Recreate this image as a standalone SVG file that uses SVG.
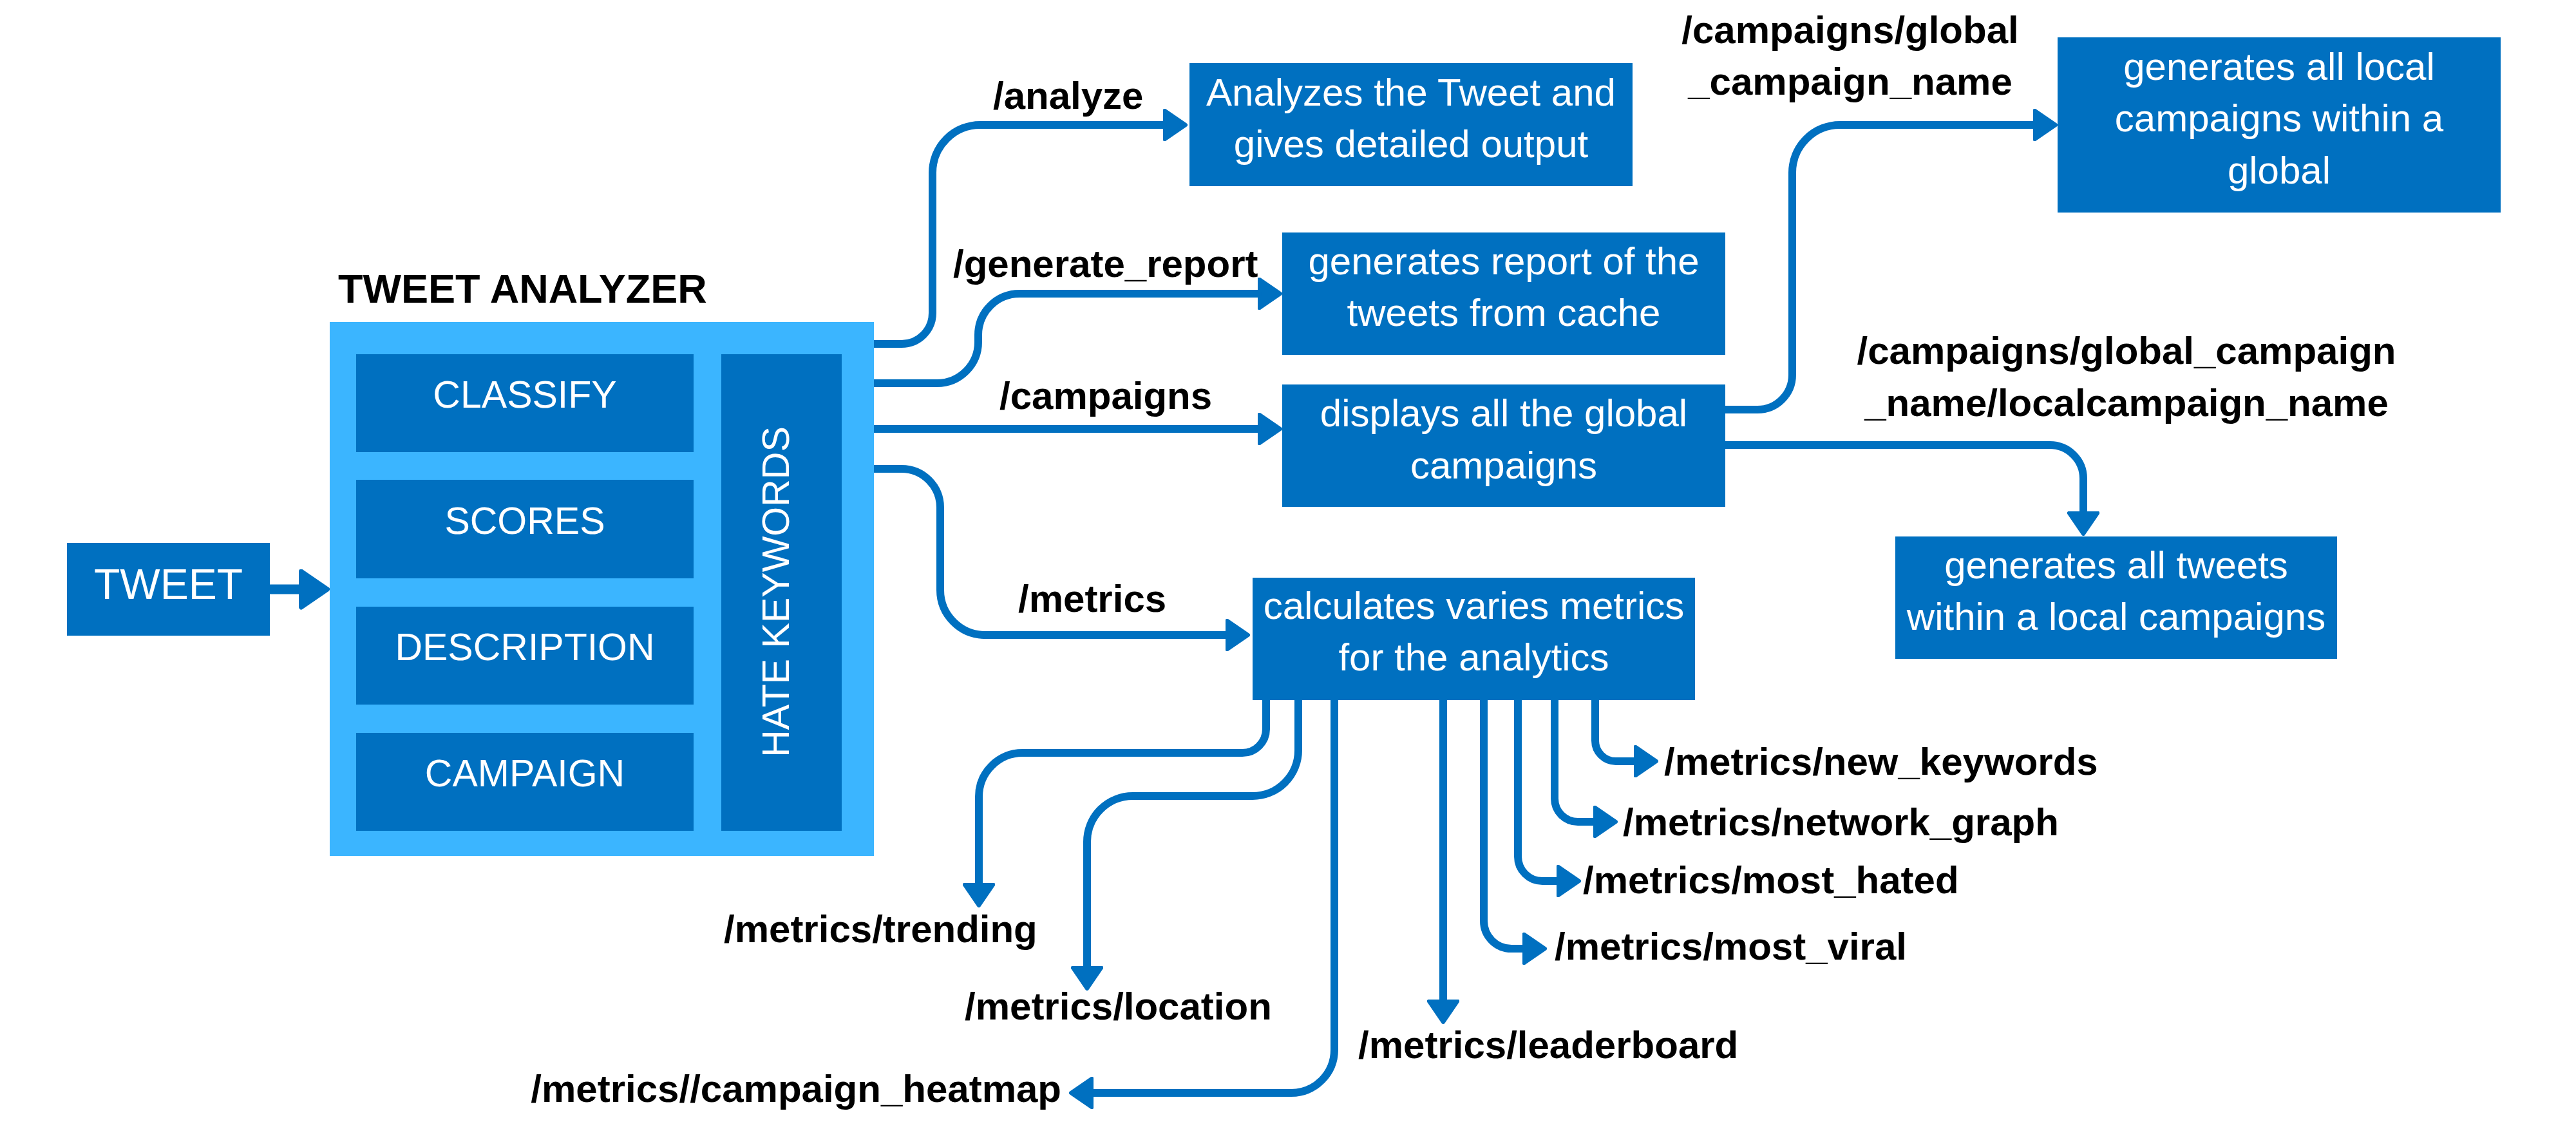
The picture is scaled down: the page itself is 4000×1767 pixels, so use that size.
<svg xmlns="http://www.w3.org/2000/svg" width="4000" height="1767" viewBox="0 0 4000 1767">
<style>
.box{fill:#0070C0}
.outer{fill:#3BB5FF}
.wt{fill:#FFFFFF;font-family:"Liberation Sans",Arial,sans-serif;font-size:60px;text-anchor:middle}
.lb{fill:#000000;font-family:"Liberation Sans",Arial,sans-serif;font-size:60px;font-weight:bold}
.c{fill:none;stroke:#0070C0;stroke-width:12;marker-end:url(#ah)}
</style>
<defs>
<marker id="ah" viewBox="0 0 3.2 4.2" refX="1.2" refY="2.1" markerWidth="3.2" markerHeight="4.2" orient="auto" markerUnits="strokeWidth">
<path d="M0.25,0.25 L2.95,2.1 L0.25,3.95 Z" fill="#0070C0" stroke="#0070C0" stroke-width="0.5" stroke-linejoin="round"/>
</marker>
</defs>
<rect width="4000" height="1767" fill="#FFFFFF"/>

<g id="connectors">
<path class="c" style="stroke-width:15" d="M419,915 H482"/>
<path class="c" d="M1357,534 H1400 A48,48 0 0 0 1448,486 V268 A74,74 0 0 1 1522,194 H1820"/>
<path class="c" d="M1357,595 H1455 A64,64 0 0 0 1519,531 V520 A64,64 0 0 1 1583,456 H1967"/>
<path class="c" d="M1357,666 H1967"/>
<path class="c" d="M1357,728 H1400 A60,60 0 0 1 1460,788 V916 A70,70 0 0 0 1530,986 H1917"/>
<path class="c" d="M2679,636 H2729 A54,54 0 0 0 2783,582 V268 A74,74 0 0 1 2857,194 H3171"/>
<path class="c" d="M2679,691 H3183 A52,52 0 0 1 3235,743 V808"/>
<path class="c" d="M1966,1087 V1132 A37,37 0 0 1 1929,1169 H1588 A68,68 0 0 0 1520,1237 V1385"/>
<path class="c" d="M2016,1087 V1165 A71,71 0 0 1 1945,1236 H1759 A71,71 0 0 0 1688,1307 V1514"/>
<path class="c" d="M2072,1087 V1630 A67,67 0 0 1 2005,1697 H1684"/>
<path class="c" d="M2241,1087 V1566"/>
<path class="c" d="M2304,1087 V1430 A43,43 0 0 0 2347,1473 H2378"/>
<path class="c" d="M2357,1087 V1330 A38,38 0 0 0 2395,1368 H2431"/>
<path class="c" d="M2414,1087 V1240 A36,36 0 0 0 2450,1276 H2488"/>
<path class="c" d="M2477,1087 V1150 A32,32 0 0 0 2509,1182 H2551"/>
</g>

<g id="labels">
<text class="lb" x="1542" y="169">/analyze</text>
<text class="lb" x="1480" y="430">/generate_report</text>
<text class="lb" x="1552" y="635">/campaigns</text>
<text class="lb" x="1581" y="950">/metrics</text>
<text class="lb" x="2873" y="67" text-anchor="middle">/campaigns/global</text>
<text class="lb" x="2873" y="147" text-anchor="middle">_campaign_name</text>
<text class="lb" x="3302" y="565" text-anchor="middle">/campaigns/global_campaign</text>
<text class="lb" x="3302" y="646" text-anchor="middle">_name/localcampaign_name</text>
<text class="lb" x="1124" y="1463">/metrics/trending</text>
<text class="lb" x="1498" y="1583">/metrics/location</text>
<text class="lb" x="1648" y="1711" text-anchor="end">/metrics//campaign_heatmap</text>
<text class="lb" x="2109" y="1643">/metrics/leaderboard</text>
<text class="lb" x="2414" y="1490">/metrics/most_viral</text>
<text class="lb" x="2458" y="1387">/metrics/most_hated</text>
<text class="lb" x="2520" y="1297">/metrics/network_graph</text>
<text class="lb" x="2584" y="1203">/metrics/new_keywords</text>
</g>

<g id="tweet">
<rect class="box" x="104" y="843" width="315" height="144"/>
<text class="wt" x="261.5" y="930" style="font-size:66px">TWEET</text>
</g>

<g id="tweet-analyzer">
<text class="lb" x="525" y="470" style="font-size:63px">TWEET ANALYZER</text>
<rect class="outer" x="512" y="500" width="845" height="829"/>
</g>
<g id="classify">
<rect class="box" x="553" y="550" width="524" height="152"/>
<text class="wt" x="815" y="633" style="font-size:59px">CLASSIFY</text>
</g>
<g id="scores">
<rect class="box" x="553" y="745" width="524" height="153"/>
<text class="wt" x="815" y="829" style="font-size:59px">SCORES</text>
</g>
<g id="description">
<rect class="box" x="553" y="942" width="524" height="152"/>
<text class="wt" x="815" y="1025" style="font-size:59px">DESCRIPTION</text>
</g>
<g id="campaign">
<rect class="box" x="553" y="1138" width="524" height="152"/>
<text class="wt" x="815" y="1221" style="font-size:59px">CAMPAIGN</text>
</g>
<g id="hate-keywords">
<rect class="box" x="1120" y="550" width="187" height="740"/>
<text class="wt" transform="translate(1225,919) rotate(-90)" x="0" y="0" style="font-size:59px">HATE KEYWORDS</text>
</g>

<g id="analyze">
<rect class="box" x="1847" y="98" width="688" height="191"/>
<text class="wt" x="2191" y="164">Analyzes the Tweet and</text>
<text class="wt" x="2191" y="244">gives detailed output</text>
</g>
<g id="generate-report">
<rect class="box" x="1991" y="361" width="688" height="190"/>
<text class="wt" x="2335" y="426">generates report of the</text>
<text class="wt" x="2335" y="506">tweets from cache</text>
</g>
<g id="campaigns">
<rect class="box" x="1991" y="597" width="688" height="190"/>
<text class="wt" x="2335" y="662">displays all the global</text>
<text class="wt" x="2335" y="743">campaigns</text>
</g>
<g id="global-campaign">
<rect class="box" x="3195" y="58" width="688" height="272"/>
<text class="wt" x="3539" y="124">generates all local</text>
<text class="wt" x="3539" y="204">campaigns within a</text>
<text class="wt" x="3539" y="285">global</text>
</g>
<g id="local-campaign">
<rect class="box" x="2943" y="833" width="686" height="190"/>
<text class="wt" x="3286" y="898">generates all tweets</text>
<text class="wt" x="3286" y="978">within a local campaigns</text>
</g>
<g id="metrics">
<rect class="box" x="1945" y="897" width="687" height="190"/>
<text class="wt" x="2288.5" y="961">calculates varies metrics</text>
<text class="wt" x="2288.5" y="1041">for the analytics</text>
</g>
</svg>
